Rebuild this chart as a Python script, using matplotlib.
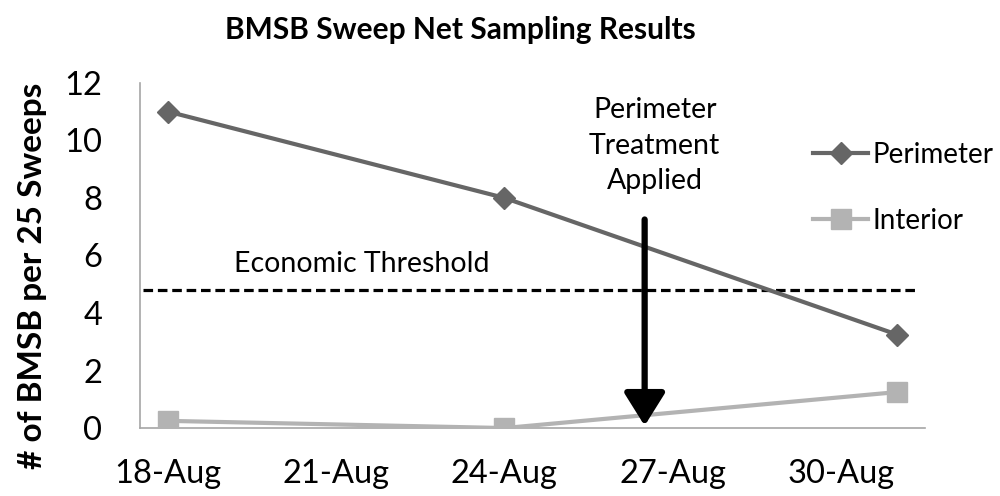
import matplotlib
matplotlib.use("Agg")
import matplotlib.pyplot as plt

plt.rcParams['font.family'] = ['Lato', 'DejaVu Sans']

# sampling dates (day of August) and counts
days = [18, 24, 31]
perimeter = [11, 8, 3.25]
interior = [0.25, 0, 1.25]
tick_days = [18, 21, 24, 27, 30]
tick_labels = ['18-Aug', '21-Aug', '24-Aug', '27-Aug', '30-Aug']
threshold = 4.8
treatment_day = 26.5

fig = plt.figure(figsize=(10, 4.96), dpi=100)
ax = fig.add_axes([0.14, 0.137, 0.785, 0.696])

ax.plot(days, perimeter, color='#666666', lw=3, marker='D', markersize=11,
        label='Perimeter', zorder=3)
ax.plot(days, interior, color='#b3b3b3', lw=3, marker='s', markersize=15,
        label='Interior', zorder=3)

# economic threshold
ax.plot([17.55, 31.35], [threshold, threshold], color='black', lw=2.3,
        linestyle=(0, (3.0, 1.5)), zorder=2)
ax.text(21.46, 5.7, 'Economic Threshold', fontsize=20.5,
        ha='center', va='center')

# treatment arrow
ax.annotate('', xy=(treatment_day, 0.08), xytext=(treatment_day, 7.25),
            arrowprops=dict(arrowstyle='-|>,head_width=1.25,head_length=2.0',
                            lw=4.5, color='black', mutation_scale=10,
                            shrinkA=0, shrinkB=0), zorder=4)
ax.text(26.68, 9.82, 'Perimeter\nTreatment\nApplied', fontsize=20.5,
        ha='center', va='center', linespacing=1.45)

ax.set_xlim(17.5, 31.5)
ax.set_ylim(0, 12)
ax.set_yticks(range(0, 13, 2))
ax.set_xticks(tick_days)
ax.set_xticklabels(tick_labels)
ax.tick_params(length=0, labelsize=23.5)
ax.tick_params(axis='x', pad=22)
ax.tick_params(axis='y', pad=27)
for s in ['top', 'right']:
    ax.spines[s].set_visible(False)
for s in ['left', 'bottom']:
    ax.spines[s].set_color('#a6a6a6')
    ax.spines[s].set_linewidth(1.2)

ax.set_ylabel('# of BMSB per 25 Sweeps', fontsize=24, fontweight='bold')
ax.yaxis.set_label_coords(-0.118, 0.44)
fig.text(0.46, 0.94, 'BMSB Sweep Net Sampling Results', fontsize=21.5,
         fontweight='bold', ha='center', va='center')

fig.legend(loc='upper left', bbox_to_anchor=(0.788, 0.765), frameon=False,
           fontsize=20, handlelength=1.98, handletextpad=0.15, labelspacing=1.45)

fig.savefig('out.png', dpi=100)
